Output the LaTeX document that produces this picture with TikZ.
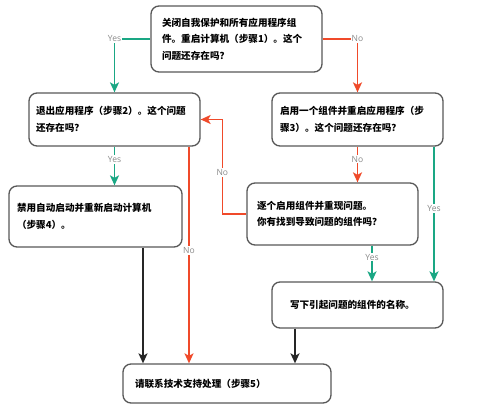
\documentclass[tikz,border=0pt]{standalone}
\usepackage{fontspec}
\setmainfont{Noto Sans CJK SC}
\newfontfamily\lblfont{Open Sans}
\usetikzlibrary{arrows.meta}
\definecolor{yesgreen}{HTML}{1AA784}
\definecolor{nored}{HTML}{F04A2A}
\definecolor{boxgray}{HTML}{585858}
\definecolor{lblgray}{HTML}{8A8A8A}
\tikzset{
  box/.style={draw=boxgray, line width=1.3pt, rounded corners=8pt, fill=white,
    align=left, inner ysep=0pt, anchor=center,
    font=\fontsize{9.6}{16.5}\selectfont\bfseries},
  conn/.style={line width=1.7pt, -{Stealth[length=10pt,width=9pt,inset=2.5pt]}},
  yesline/.style={conn, draw=yesgreen},
  noline/.style={conn, draw=nored},
  blkline/.style={conn, draw=black!85},
  lbl/.style={fill=white, inner sep=1.2pt, text=lblgray, font=\lblfont\fontsize{8.5}{9}\selectfont}
}
\begin{document}
\begin{tikzpicture}[x=1pt,y=-1pt]
\useasboundingbox[fill=white] (0,0) rectangle (500,411);
% boxes
\node[box, inner xsep=11pt, text width=149pt, minimum height=66pt] (b1) at (236.5,39)
  {关闭自我保护和所有应用程序组\\件。重启计算机（步骤1）。这个\\问题还存在吗？};
\node[box, inner xsep=7pt, text width=157pt, minimum height=53pt] (b2) at (114.5,119.5)
  {退出应用程序（步骤2）。这个问题\\还存在吗？};
\node[box, inner xsep=8pt, text width=155pt, minimum height=53pt] (b3) at (357.5,119.5)
  {启用一个组件并重启应用程序（步\\骤3）。这个问题还存在吗？};
\node[box, inner xsep=8pt, text width=157pt, minimum height=61pt] (b4) at (95.5,216.5)
  {禁用自动启动并重新启动计算机\\（步骤4）。};
\node[box, inner xsep=10pt, text width=151pt, minimum height=62pt] (b5) at (332.5,214)
  {逐个启用组件并重现问题。\\你有找到导致问题的组件吗？};
\node[box, inner xsep=18pt, text width=135pt, minimum height=46pt] (b6) at (357.5,305)
  {写下引起问题的组件的名称。};
\node[box, inner xsep=12pt, text width=184pt, minimum height=39pt] (b7) at (227,383.5)
  {请联系技术支持处理（步骤5）};
% connectors
\draw[yesline] (b1.west) -| node[lbl, pos=0.5] {Yes} (b2.north);
\draw[noline] (b1.east) -| node[lbl, pos=0.5] {No} (b3.north);
\draw[yesline] (b2.south) -- node[lbl, pos=0.33] {Yes} (b2.south |- b4.north);
\draw[noline] ([xshift=74.5pt]b2.south) -- node[lbl, pos=0.48] {No} ([xshift=74.5pt]b2.south |- b7.north);
\draw[noline] (b5.west) -- ++(-24,0) |- node[lbl, pos=0.22] {No} (b2.east);
\draw[noline] (b3.south) -- node[lbl, pos=0.35] {No} (b3.south |- b5.north);
\draw[yesline] ([xshift=76.5pt]b3.south) -- node[lbl, pos=0.46] {Yes} ([xshift=76.5pt]b3.south |- b6.north);
\draw[yesline] ([xshift=39.5pt]b5.south) -- node[lbl, pos=0.32] {Yes} ([xshift=39.5pt]b5.south |- b6.north);
\draw[blkline] ([xshift=47.5pt]b4.south) -- ([xshift=47.5pt]b4.south |- b7.north);
\draw[blkline] ([xshift=-62.5pt]b6.south) -- ([xshift=-62.5pt]b6.south |- b7.north);
\end{tikzpicture}
\end{document}
